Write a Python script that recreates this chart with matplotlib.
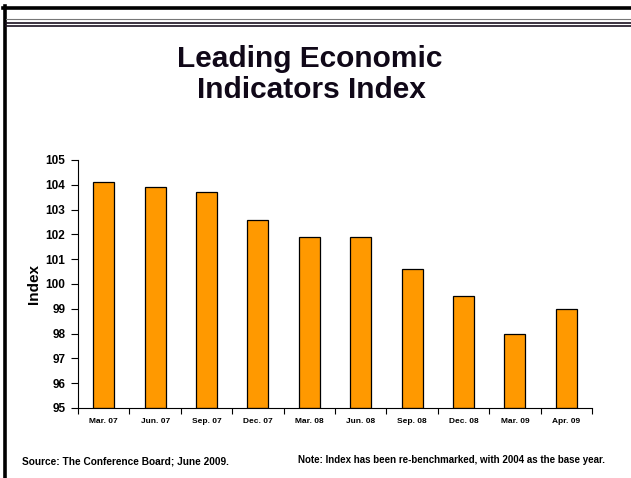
import matplotlib.pyplot as plt
from matplotlib.lines import Line2D

plt.rcParams["font.family"] = ["Liberation Sans", "DejaVu Sans"]
plt.rcParams["font.weight"] = "bold"

quarters = ["Mar. 07", "Jun. 07", "Sep. 07", "Dec. 07", "Mar. 08",
            "Jun. 08", "Sep. 08", "Dec. 08", "Mar. 09", "Apr. 09"]
index_values = [104.1, 103.9, 103.7, 102.6, 101.9,
                101.9, 100.6, 99.5, 98.0, 99.0]
y_ticks = list(range(95, 106))

W, H = 631, 478
fig = plt.figure(figsize=(W / 100, H / 100), dpi=100)


def fx(px):
    return px / W


def fy(py):
    return 1 - py / H


# slide frame: heavy top rule, left rule and the double rule under it
fig.add_artist(Line2D([fx(3), 1], [fy(7.5), fy(7.5)], color="black", lw=2.6,
                      transform=fig.transFigure))
fig.add_artist(Line2D([fx(4.5), fx(4.5)], [fy(6), 0], color="black", lw=2.6,
                      transform=fig.transFigure))
fig.add_artist(Line2D([fx(6), 1], [fy(18.5), fy(18.5)], color="#777777", lw=0.8,
                      transform=fig.transFigure))
fig.add_artist(Line2D([fx(6), 1], [fy(22.5), fy(22.5)], color="#1a1020", lw=1.2,
                      transform=fig.transFigure))
fig.add_artist(Line2D([fx(6), 1], [fy(25.5), fy(25.5)], color="#1a1020", lw=1.2,
                      transform=fig.transFigure))

fig.text(fx(310), fy(67), "Leading Economic", ha="center", va="baseline",
         fontsize=21.5, fontweight="bold", color="#100818")
fig.text(fx(311), fy(98), "Indicators Index", ha="center", va="baseline",
         fontsize=21.5, fontweight="bold", color="#100818")

ax = fig.add_axes([fx(78), fy(408), fx(592 - 78), fy(160) - fy(408)])
x = range(len(quarters))
ax.bar(x, [v - 95 for v in index_values], bottom=95, width=0.41,
       color="#ff9900", edgecolor="black", linewidth=0.9)

ax.set_xlim(-0.5, len(quarters) - 0.5)
ax.set_ylim(95, 105)
ax.set_yticks(y_ticks)
ax.set_yticklabels([str(t) for t in y_ticks], fontsize=8.5, fontweight="bold")
ax.set_xticks([i + 0.5 for i in range(-1, len(quarters))])
ax.set_xticklabels([])
ax.set_xticks(list(x), minor=True)
ax.set_xticklabels(quarters, minor=True, fontsize=6, fontweight="bold")
ax.tick_params(axis="x", which="minor", length=0, pad=7)
ax.tick_params(axis="x", which="major", length=4, width=0.8, direction="out")
ax.tick_params(axis="y", length=5, width=0.8, direction="out", pad=4)

for side in ("top", "right"):
    ax.spines[side].set_visible(False)
for side in ("left", "bottom"):
    ax.spines[side].set_linewidth(0.8)

ax.set_ylabel("Index", fontsize=11, fontweight="bold", labelpad=3)

fig.text(fx(22), fy(461), "Source: The Conference Board; June 2009.",
         fontsize=7.3, fontweight="bold", va="center")
fig.text(fx(605), fy(460),
         "Note: Index has been re-benchmarked, with 2004 as the base year.",
         fontsize=7, fontweight="bold", va="center", ha="right")

fig.savefig("out.png", dpi=100)
